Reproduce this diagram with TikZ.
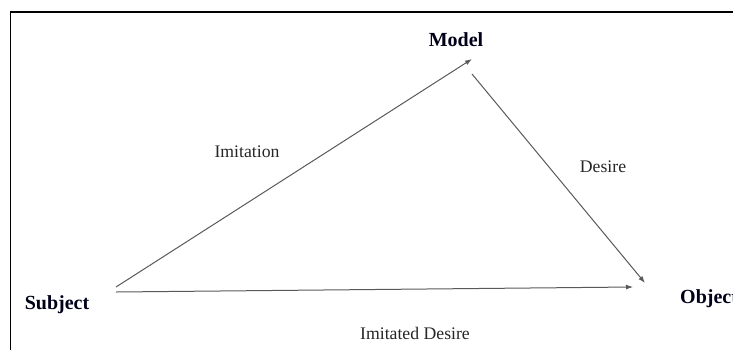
\documentclass[tikz,border=0pt]{standalone}
\usepackage{fontspec}
\setmainfont{Liberation Serif}
\usetikzlibrary{arrows.meta}
\begin{document}
\begin{tikzpicture}[x=1pt,y=-1pt,
  vertex/.style={font=\fontsize{20}{22}\selectfont\bfseries, text=black!90!blue, inner sep=0pt, anchor=center},
  edgelabel/.style={font=\fontsize{17.7}{20}\selectfont, text=black!85, inner sep=0pt, anchor=center},
  link/.style={draw=black!65, line width=1pt, -{Latex[length=7pt,width=5pt]}}]
  \useasboundingbox (0,0) rectangle (733,349);
  \clip (0,0) rectangle (733,349);
  % frame around the figure
  \draw[line width=1.6pt] (10.5,400) -- (10.5,12) -- (800,12);

  % vertices
  \node[vertex] (model) at (456,40) {Model};
  \node[vertex] (subject) at (57,305) {Subject};
  \node[vertex, anchor=west] (object) at (680,299) {Object};

  % arrow end points
  \coordinate (subjUp) at (116,287);
  \coordinate (subjRight) at (116,292);
  \coordinate (modelIn) at (472,59);
  \coordinate (modelOut) at (472,74);
  \coordinate (objIn) at (645,283);
  \coordinate (objLeft) at (633,287);

  % relations
  \draw[link] (subjUp) -- (modelIn);
  \draw[link] (modelOut) -- (objIn);
  \draw[link] (subjRight) -- (objLeft);

  % labels
  \node[edgelabel] (imitation) at (247,152) {Imitation};
  \node[edgelabel] (desire) at (603,167) {Desire};
  \node[edgelabel] (imitated) at (415,333) {Imitated Desire};
\end{tikzpicture}
\end{document}
